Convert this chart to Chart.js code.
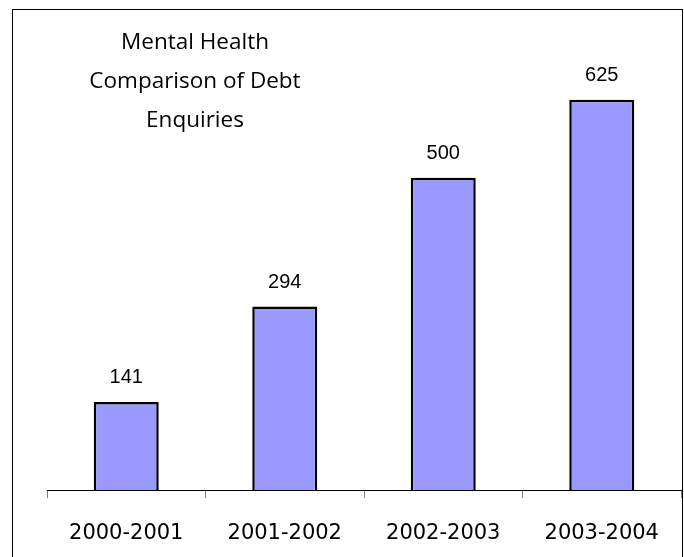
<!DOCTYPE html>
<html>
<head>
<meta charset="utf-8">
<script src="https://cdn.jsdelivr.net/npm/chart.js@4"></script>
<style>
  html, body { margin: 0; padding: 0; background: #fff; overflow: hidden; }
  #chart { display: block; }
</style>
</head>
<body>
<canvas id="chart" width="684" height="557"></canvas>
<script>
// Data
const periods = ['2000-2001', '2001-2002', '2002-2003', '2003-2004'];
const enquiries = [141, 294, 500, 625];
const titleLines = ['Mental Health', 'Comparison of Debt', 'Enquiries'];

// Outer frame, title block and value labels
const decorations = {
    id: 'decorations',
    beforeDraw(chart) {
        const ctx = chart.ctx;
        ctx.save();
        ctx.fillStyle = '#fff';
        ctx.fillRect(0, 0, chart.width, chart.height);
        ctx.strokeStyle = '#000';
        ctx.lineWidth = 1;
        ctx.strokeRect(12.5, 9.5, 670, 620);
        ctx.restore();
    },
    afterDraw(chart) {
        const ctx = chart.ctx;
        ctx.save();
        ctx.fillStyle = '#000';
        ctx.textAlign = 'center';
        ctx.textBaseline = 'middle';

        ctx.font = '22.5px "Open Sans"';
        titleLines.forEach((line, i) => {
            ctx.fillText(line, 195, 43 + i * 39);
        });

        ctx.font = '20px "Liberation Sans"';
        const meta = chart.getDatasetMeta(0);
        meta.data.forEach((bar, i) => {
            ctx.fillText(String(enquiries[i]), bar.x, bar.y - 24);
        });
        ctx.restore();
    }
};

new Chart(document.getElementById('chart').getContext('2d'), {
    type: 'bar',
    data: {
        labels: periods,
        datasets: [{
            data: enquiries,
            backgroundColor: '#9999FF',
            borderColor: '#000',
            borderWidth: 2.5,
            borderSkipped: 'bottom',
            barPercentage: 0.41,
            categoryPercentage: 1
        }]
    },
    options: {
        responsive: false,
        animation: false,
        layout: { padding: { left: 47, right: 3, top: 53, bottom: 0 } },
        plugins: {
            legend: { display: false },
            title: { display: false },
            tooltip: { enabled: false }
        },
        scales: {
            x: {
                grid: {
                    display: true,
                    drawOnChartArea: false,
                    drawTicks: true,
                    tickLength: 8,
                    tickColor: '#808080',
                    offset: true
                },
                border: { display: true, color: '#000', width: 1 },
                ticks: {
                    color: '#000',
                    font: { family: '"DejaVu Sans"', size: 21 },
                    padding: 23,
                    maxRotation: 0
                },
                afterFit(scale) { scale.height = 67; }
            },
            y: {
                display: false,
                min: 0,
                max: 700
            }
        }
    },
    plugins: [decorations]
});
</script>
</body>
</html>
